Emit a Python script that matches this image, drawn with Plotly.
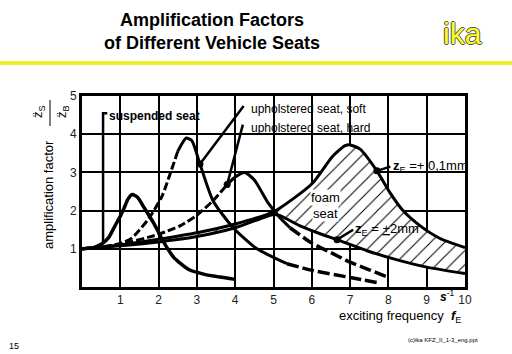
import plotly.graph_objects as go

# ---------------- data ----------------
susp_x = [0, 0.3, 0.52, 0.7, 0.86, 1.0, 1.1, 1.2, 1.31, 1.45, 1.62, 1.88, 2.14, 2.4, 2.8, 3.2, 3.6, 4.0]
susp_y = [1.0, 1.03, 1.13, 1.3, 1.6, 1.85, 2.07, 2.3, 2.42, 2.35, 2.08, 1.66, 1.16, 0.77, 0.45, 0.33, 0.26, 0.2]

soft_x = [0, 0.5, 1.0, 1.3, 1.75, 2.09, 2.3, 2.5, 2.72, 2.87, 3.08, 3.42, 3.94, 4.57, 5.35, 6.03, 7.0, 7.8]
soft_y = [1.0, 1.04, 1.14, 1.28, 1.8, 2.38, 2.96, 3.55, 3.9, 3.83, 3.22, 2.26, 1.56, 1.0, 0.61, 0.43, 0.25, 0.1]

hard_x = [0, 1, 2, 2.56, 3.0, 3.42, 3.79, 4.0, 4.25, 4.5, 4.86, 5.17, 5.43, 6.0, 6.5, 7.0, 7.5, 8.0]
hard_y = [1.0, 1.12, 1.38, 1.6, 1.88, 2.26, 2.68, 2.88, 3.0, 2.8, 2.2, 1.81, 1.55, 1.15, 0.9, 0.65, 0.45, 0.25]

foam_hi_x = [0, 1, 2, 3, 4, 5, 5.5, 6.03, 6.55, 6.87, 7.0, 7.26, 7.7, 8.04, 8.38, 8.83, 9.35, 10]
foam_hi_y = [1.0, 1.1, 1.25, 1.42, 1.65, 1.97, 2.3, 2.73, 3.43, 3.7, 3.72, 3.61, 3.04, 2.47, 2.0, 1.6, 1.27, 1.03]

foam_lo_x = [0, 1, 2, 3, 4, 5, 5.17, 5.69, 6.2, 6.66, 7.44, 8.3, 9.0, 10]
foam_lo_y = [1.0, 1.08, 1.18, 1.32, 1.55, 1.9, 1.87, 1.6, 1.4, 1.24, 0.95, 0.69, 0.52, 0.35]

x_ticks = [1, 2, 3, 4, 5, 6, 7, 8, 9, 10]
x_tick_text = ["1", "2", "3", "4", "5", "6", "7", "8", "9", "10"]
y_ticks = [1, 2, 3, 4, 5]

# marker points on curves (x, y)
soft_pt = (3.08, 3.22)
hard_pt = (3.79, 2.68)
hi_pt = (7.7, 3.04)
lo_pt = (6.66, 1.24)
susp_pt = (0.55, 1.15)

# ---------------- geometry helpers ----------------
L, R, T, B = 82, 465, 96, 287
W, H = 512, 354


def px(xp):
    return (xp - L) / (R - L)


def py(yp):
    return (B - yp) / (B - T)


FONT = "Liberation Sans, Arial, sans-serif"
NARROW = "Liberation Sans Narrow, Arial Narrow, Liberation Sans, Arial, sans-serif"

fig = go.Figure()

# foam seat hatched area (closed polygon from the two curves)
poly_x = foam_hi_x + foam_lo_x[::-1]
poly_y = foam_hi_y + foam_lo_y[::-1]
fig.add_trace(go.Scatter(
    x=poly_x, y=poly_y, mode="lines", fill="toself",
    line=dict(color="rgba(0,0,0,0)", width=0),
    fillcolor="white",
    fillpattern=dict(shape="/", fgcolor="black", bgcolor="white", size=10, solidity=0.1, fgopacity=1),
    hoverinfo="skip"))


def line(x, y, width=3, dash="solid"):
    fig.add_trace(go.Scatter(x=x, y=y, mode="lines",
                             line=dict(color="black", width=width, dash=dash, shape="spline", smoothing=0.6),
                             hoverinfo="skip"))


line(foam_hi_x, foam_hi_y, 3)
line(foam_lo_x, foam_lo_y, 3)
line(susp_x, susp_y, 3.5)
# soft: rising dashed, peak solid, tail dashed
line(soft_x[:8], soft_y[:8], 3, "8px,3px")
line(soft_x[7:15], soft_y[7:15], 3)
line(soft_x[14:], soft_y[14:], 3.5, "12px,4px")
# hard
line(hard_x[:7], hard_y[:7], 3, "8px,3px")
line(hard_x[6:13], hard_y[6:13], 3)
line(hard_x[12:], hard_y[12:], 3.5, "12px,4px")

# marker dots
pts = [soft_pt, hard_pt, hi_pt, lo_pt]
fig.add_trace(go.Scatter(x=[p[0] for p in pts], y=[p[1] for p in pts], mode="markers",
                         marker=dict(color="black", size=7), hoverinfo="skip"))

# leader lines
leaders = [
    ([susp_pt[0], susp_pt[0], 0.66], [susp_pt[1], 4.55, 4.55]),
    ([soft_pt[0], 4.22], [soft_pt[1], 4.74]),
    ([hard_pt[0], 4.2], [hard_pt[1], 4.25]),
    ([hi_pt[0], 8.05], [hi_pt[1], 3.15]),
    ([lo_pt[0], 7.08], [lo_pt[1], 1.5]),
]
for lx, ly in leaders:
    fig.add_trace(go.Scatter(x=lx, y=ly, mode="lines", line=dict(color="black", width=2.5),
                             hoverinfo="skip"))

shapes = [
    # white boxes behind the curve labels (hide grid)
    dict(type="rect", xref="paper", yref="paper", x0=px(99), x1=px(236), y0=py(125), y1=py(103),
         fillcolor="white", line=dict(width=0), layer="between"),
    dict(type="rect", xref="paper", yref="paper", x0=px(236), x1=px(388), y0=py(139), y1=py(103),
         fillcolor="white", line=dict(width=0), layer="between"),
    # yellow header rule
    dict(type="line", xref="paper", yref="paper", x0=px(0), x1=px(512), y0=py(63), y1=py(63),
         line=dict(color="#eeee30", width=4)),
    # fraction bar of the y label
    dict(type="line", xref="paper", yref="paper", x0=px(50), x1=px(50), y0=py(100), y1=py(126),
         line=dict(color="black", width=1)),
]

ann = []


def text(xp, yp, s, size=12, xanchor="left", yanchor="middle", family=FONT, color="black", **kw):
    ann.append(dict(x=px(xp), y=py(yp), xref="paper", yref="paper", text=s, showarrow=False,
                    xanchor=xanchor, yanchor=yanchor, font=dict(size=size, family=family, color=color), **kw))


# title
text(212, 20, "<b>Amplification Factors</b>", 18, "center")
text(212, 43, "<b>of Different Vehicle Seats</b>", 18, "center")
ann.append(dict(x=px(462), y=py(33), xref="paper", yref="paper", text="ika", showarrow=False,
                xanchor="center", yanchor="middle",
                font=dict(size=30, family=FONT, color="#ffff20",
                          shadow="1px 0 0 #555, -1px 0 0 #555, 0 1px 0 #555, 0 -1px 0 #555")))

# curve labels
text(107, 116, "<b>suspended seat</b>", 12, family=NARROW)
text(249, 109, "upholstered seat, soft", 12, family=NARROW)
text(249, 128, "upholstered seat, hard", 12, family=NARROW)
text(325, 197, "foam", 13, "center", bgcolor="white", borderpad=0)
text(325, 213, "seat", 13, "center", bgcolor="white", borderpad=0)
text(391, 166, "<b>z</b><sub>E</sub> =<u>+</u> 0,1mm", 13)
text(353, 229, "<b>z</b><sub>E</sub> = <u>+</u>2mm", 13)

# axis titles
text(463, 316, "exciting frequency  <b><i>f</i></b><sub>E</sub>", 13, "right")
text(447, 296, "<b><i>s</i></b><sup>-1</sup>", 12, "center")
text(48, 195, "amplification factor", 13, "center", textangle=-90)
text(38, 112, "z̈<sub>S</sub>", 13, "center", textangle=-90)
text(62, 112, "z̈<sub>B</sub>", 13, "center", textangle=-90)

# footer
text(14, 346, "15", 9, "center")
text(480, 340, "(c)ika KFZ_II_1-3_eng.ppt", 6, "right")

fig.update_layout(
    width=W, height=H, margin=dict(l=L, r=W - R, t=T, b=H - B),
    paper_bgcolor="white", plot_bgcolor="white", showlegend=False,
    shapes=shapes, annotations=ann,
    xaxis=dict(range=[0, 10], tickvals=x_ticks, ticktext=x_tick_text, showgrid=True,
               gridcolor="black", gridwidth=1.8, showline=True, linecolor="black", linewidth=3,
               mirror=True, ticks="", zeroline=False,
               tickfont=dict(size=12, family=FONT, color="#222")),
    yaxis=dict(range=[0, 5], tickvals=y_ticks, showgrid=True, gridcolor="black", gridwidth=1.8,
               showline=True, linecolor="black", linewidth=3, mirror=True, ticks="", zeroline=False,
               tickfont=dict(size=12, family=FONT, color="#222")),
)

fig.write_html("out.html")
